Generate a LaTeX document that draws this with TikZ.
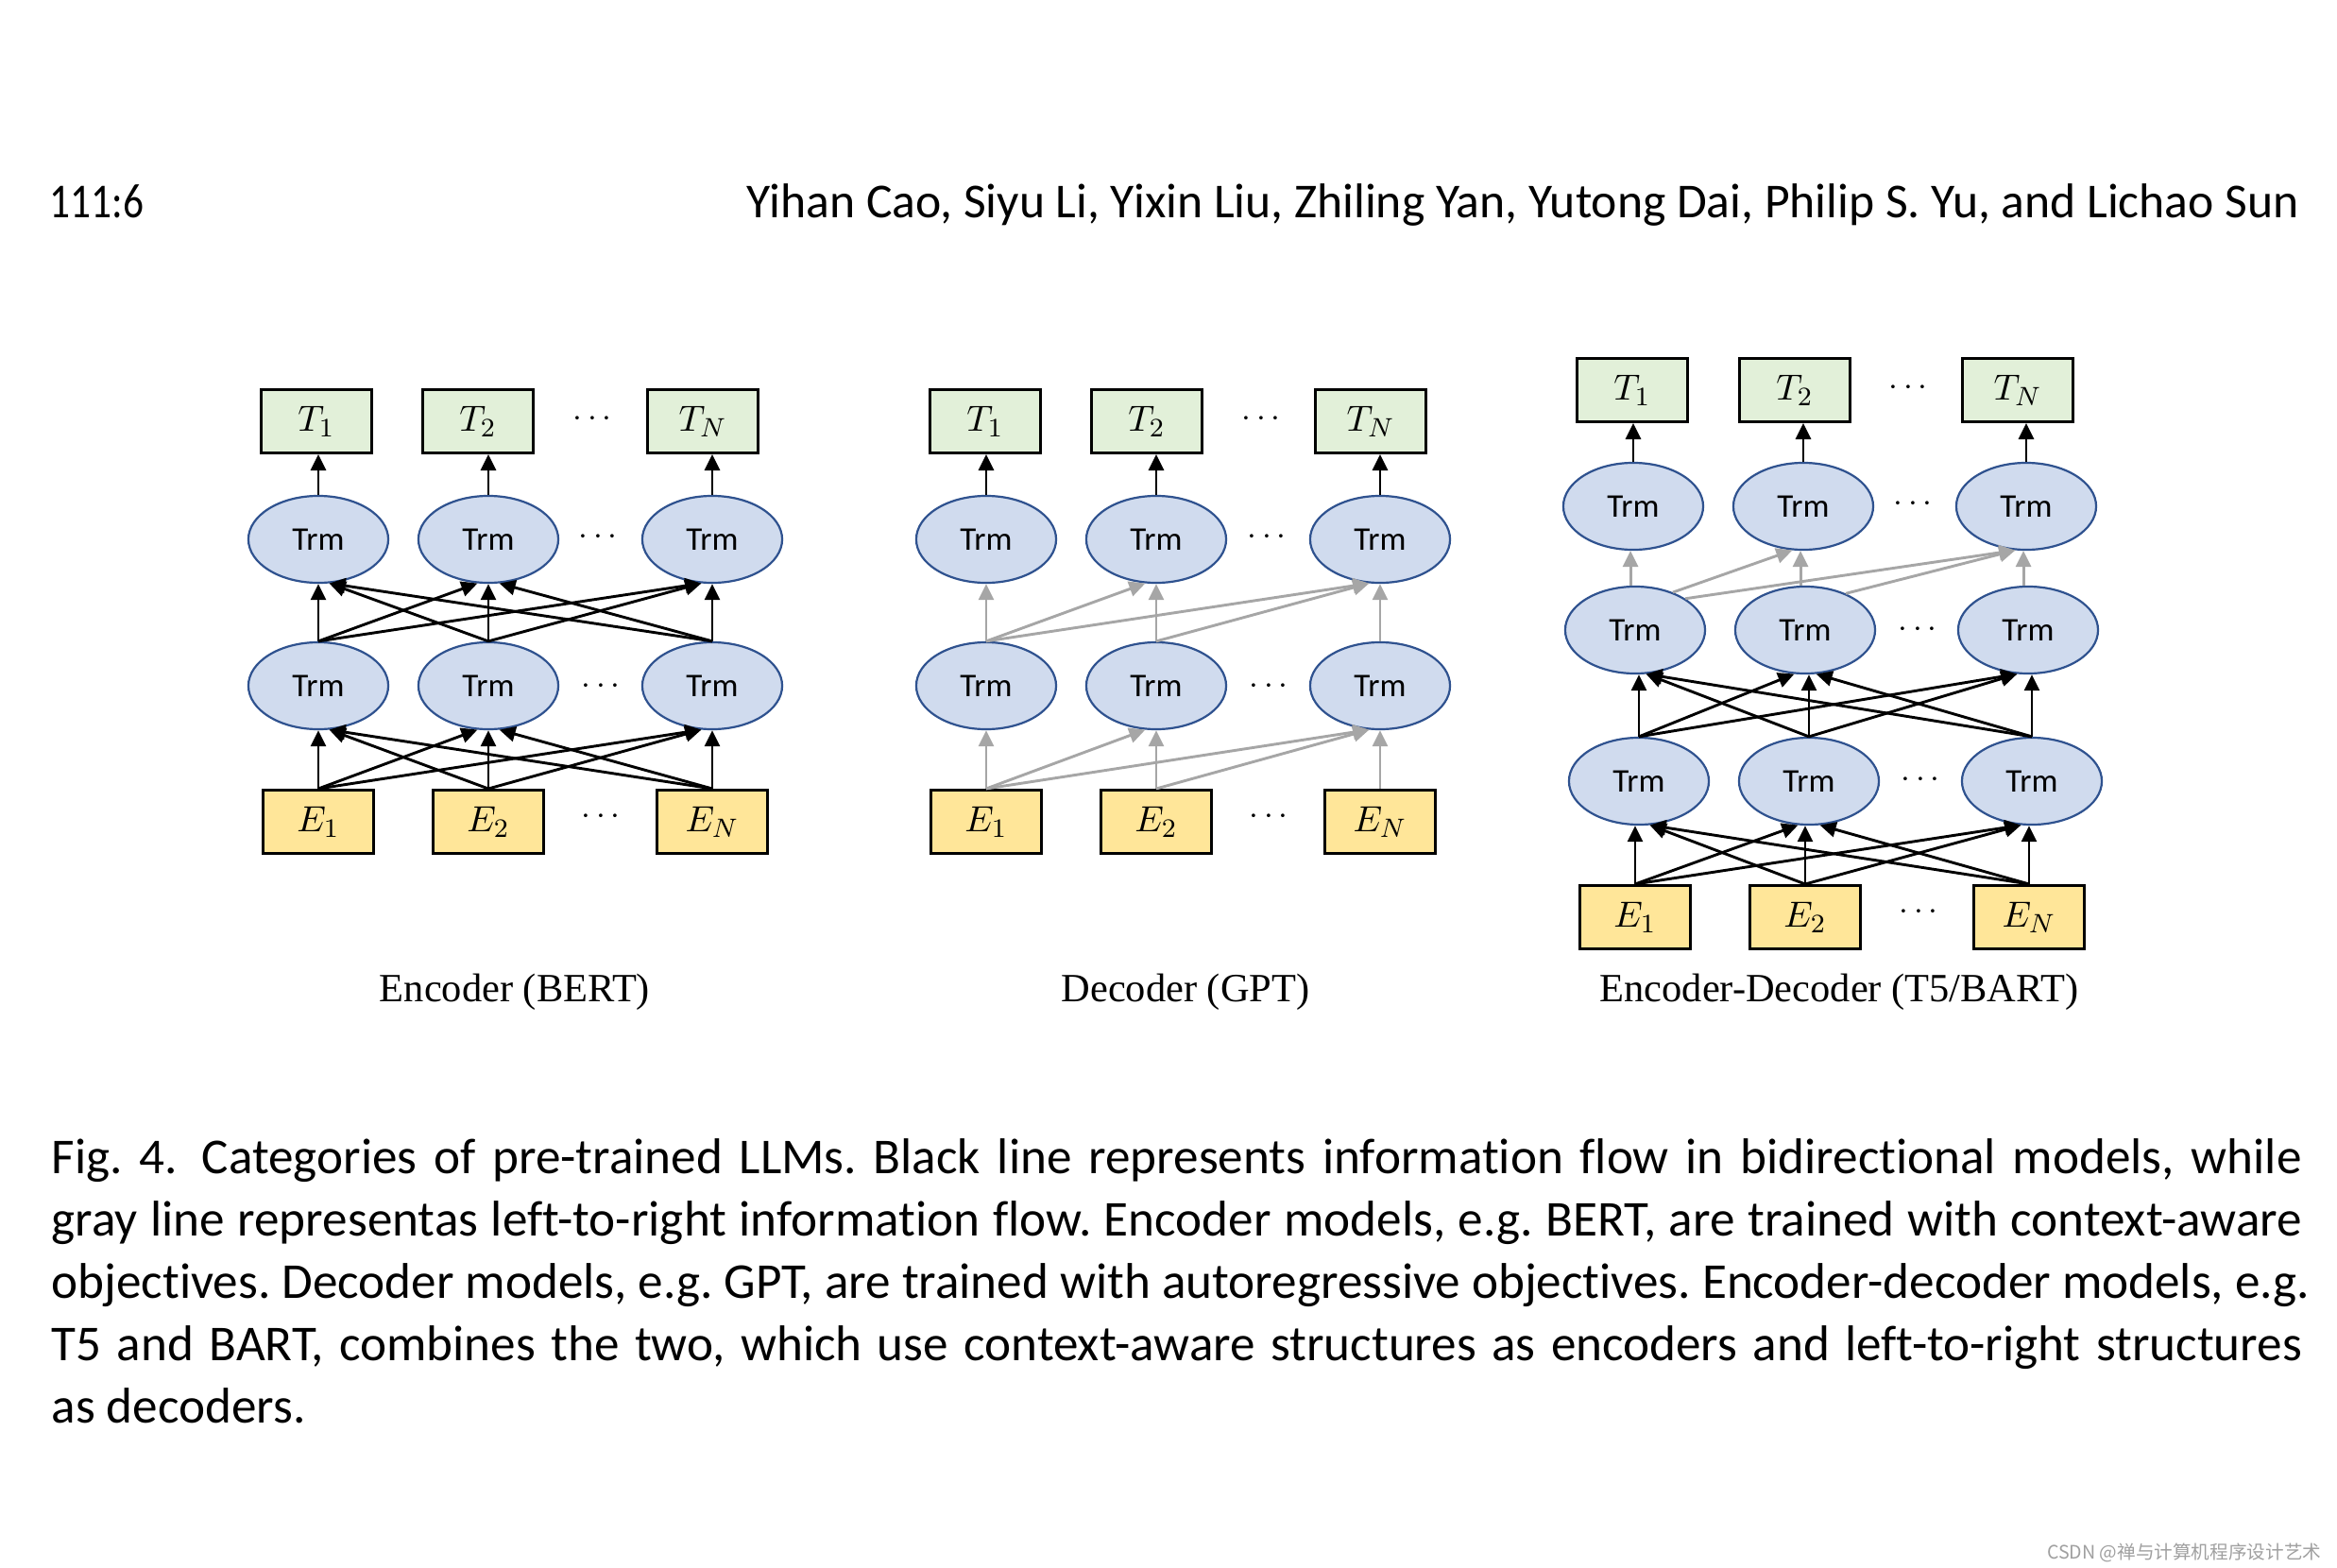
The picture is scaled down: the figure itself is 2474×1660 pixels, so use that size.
\documentclass[tikz,border=0pt]{standalone}
\usepackage{fontspec}
\usetikzlibrary{shapes.geometric,arrows.meta}
\definecolor{tgreen}{HTML}{E2F0D9}
\definecolor{eyellow}{HTML}{FFE699}
\definecolor{trmfill}{HTML}{D0DBEE}
\definecolor{trmdraw}{HTML}{2F528F}
\definecolor{arrgray}{HTML}{A6A6A6}
\definecolor{wmgray}{HTML}{A0A0A0}
\newfontfamily\capfont[Ligatures=NoCommon]{Carlito}
\newfontfamily\serfont{Liberation Serif}
\newfontfamily\cjkfont{Noto Sans CJK SC}
\newlength\fitlen
\newcommand\fitsize[4]{%
  \settowidth\fitlen{#2\frenchspacing\fontsize{10pt}{12pt}\selectfont #4}%
  \pgfmathsetmacro#1{10*#3/\fitlen}}
\newcommand\capA{Fig. 4.\kern0.26cm Categories of pre-trained LLMs. Black line represents information flow in bidirectional models, while}
\newcommand\capB{gray line representas left-to-right information flow. Encoder models, e.g. BERT, are trained with context-aware}
\newcommand\capC{objectives. Decoder models, e.g. GPT, are trained with autoregressive objectives. Encoder-decoder models, e.g.}
\newcommand\capD{T5 and BART, combines the two, which use context-aware structures as encoders and left-to-right structures}
\newcommand\capE{as decoders.}
\newcommand\hdtext{Yihan Cao, Siyu Li, Yixin Liu, Zhiling Yan, Yutong Dai, Philip S. Yu, and Lichao Sun}
\newcommand\wmtext{CSDN @禅与计算机程序设计艺术}
\tikzset{
  tbox/.style={draw, line width=0.03cm, fill=tgreen, minimum width=1.17cm,
    minimum height=0.67cm, inner sep=0pt, font=\fontsize{10.95}{13}\selectfont},
  ebox/.style={tbox, fill=eyellow},
  trm/.style={ellipse, draw=trmdraw, line width=0.022cm, fill=trmfill,
    minimum width=1.48cm, minimum height=0.92cm, inner sep=0pt,
    font=\capfont\fontsize{\trmsz pt}{\trmsz pt}\selectfont},
  dotsn/.style={inner sep=0pt, font=\fontsize{10}{12}\selectfont},
  bl/.style={line width=0.029cm, black, -{Triangle[length=0.17cm,width=0.16cm]}},
  gr/.style={line width=0.029cm, color=arrgray, -{Triangle[length=0.17cm,width=0.16cm]}},
  capline/.style={anchor=base west, inner sep=0pt,
    font=\capfont\frenchspacing\fontsize{\capsz pt}{\capsz pt}\selectfont},
  hd/.style={inner sep=0pt, font=\capfont\frenchspacing\fontsize{\hdsz pt}{\hdsz pt}\selectfont},
  lab/.style={anchor=base, inner sep=0pt, font=\serfont\fontsize{\labsz pt}{\labsz pt}\selectfont},
  wm/.style={anchor=base east, inner sep=0pt, text=wmgray,
    font=\cjkfont\fontsize{\wmsz pt}{\wmsz pt}\selectfont}
}
\newcommand\tarrows[6]{%
  \draw[bl] (#1.north) -- (#1.north |- #4.south);
  \draw[bl] (#2.north) -- (#2.north |- #5.south);
  \draw[bl] (#3.north) -- (#3.north |- #6.south);}
\newcommand\bilayer[6]{%
  \draw[bl] (#1.north) -- (#1.north |- #4.south);
  \draw[bl] (#1.north) -- (#5.-104);
  \draw[bl] (#1.north) -- (#6.-104);
  \draw[bl] (#2.north) -- (#4.-76);
  \draw[bl] (#2.north) -- (#2.north |- #5.south);
  \draw[bl] (#2.north) -- (#6.-104);
  \draw[bl] (#3.north) -- (#4.-76);
  \draw[bl] (#3.north) -- (#5.-76);
  \draw[bl] (#3.north) -- (#3.north |- #6.south);}
\newcommand\unilayer[6]{%
  \draw[gr] (#1.north) -- (#1.north |- #4.south);
  \draw[gr] (#1.north) -- (#5.-104);
  \draw[gr] (#1.north) -- (#6.-104);
  \draw[gr] (#2.north) -- (#2.north |- #5.south);
  \draw[gr] (#2.north) -- (#6.-104);
  \draw[gr] (#3.north) -- (#3.north |- #6.south);}
\begin{document}
\fitsize\capsz\capfont{679.7}{\capC}%
\fitsize\hdsz\capfont{467.5}{\hdtext}%
\fitsize\labsz\serfont{81.38}{Encoder (BERT)}%
\fitsize\trmsz\capfont{15.65}{Trm}%
\fitsize\wmsz\cjkfont{82.5}{\wmtext}%
\begin{tikzpicture}[x=0.01cm,y=-0.01cm]
\useasboundingbox (0,0) rectangle (2474,1660);
\fill[white] (0,0) rectangle (2474,1660);

% header
\node[hd, anchor=base west] (pg) at (52,230) {\scalebox{0.84}[1]{111:6}};
\node[hd, anchor=base east] (au) at (2435,230) {\hdtext};

% ---------- Encoder (BERT) ----------
\node[tbox] (et1) at (335,446) {$T_1$};
\node[tbox] (et2) at (506,446) {$T_2$};
\node[tbox] (et3) at (744,446) {$T_N$};
\node[dotsn] (etd) at (627,444) {$\cdots$};
\node[trm] (eu1) at (337,571) {Trm};
\node[trm] (eu2) at (517,571) {Trm};
\node[trm] (eu3) at (754,571) {Trm};
\node[dotsn] (eud) at (633,569) {$\cdots$};
\node[trm] (el1) at (337,726) {Trm};
\node[trm] (el2) at (517,726) {Trm};
\node[trm] (el3) at (754,726) {Trm};
\node[dotsn] (eld) at (636,727) {$\cdots$};
\node[ebox] (ee1) at (337,870) {$E_1$};
\node[ebox] (ee2) at (517,870) {$E_2$};
\node[ebox] (ee3) at (754,870) {$E_N$};
\node[dotsn] (eed) at (636,865) {$\cdots$};
\tarrows{eu1}{eu2}{eu3}{et1}{et2}{et3}
\bilayer{el1}{el2}{el3}{eu1}{eu2}{eu3}
\bilayer{ee1}{ee2}{ee3}{el1}{el2}{el3}
\node[lab] (lab1) at (545,1060) {Encoder (BERT)};

% ---------- Decoder (GPT) ----------
\node[tbox] (dt1) at (1043,446) {$T_1$};
\node[tbox] (dt2) at (1214,446) {$T_2$};
\node[tbox] (dt3) at (1451,446) {$T_N$};
\node[dotsn] (dtd) at (1335,444) {$\cdots$};
\node[trm] (du1) at (1044,571) {Trm};
\node[trm] (du2) at (1224,571) {Trm};
\node[trm] (du3) at (1461,571) {Trm};
\node[dotsn] (dud) at (1341,569) {$\cdots$};
\node[trm] (dl1) at (1044,726) {Trm};
\node[trm] (dl2) at (1224,726) {Trm};
\node[trm] (dl3) at (1461,726) {Trm};
\node[dotsn] (dld) at (1343,727) {$\cdots$};
\node[ebox] (de1) at (1044,870) {$E_1$};
\node[ebox] (de2) at (1224,870) {$E_2$};
\node[ebox] (de3) at (1461,870) {$E_N$};
\node[dotsn] (ded) at (1343,865) {$\cdots$};
\tarrows{du1}{du2}{du3}{dt1}{dt2}{dt3}
\unilayer{dl1}{dl2}{dl3}{du1}{du2}{du3}
\unilayer{de1}{de2}{de3}{dl1}{dl2}{dl3}
\node[lab] (lab2) at (1255,1060) {Decoder (GPT)};

% ---------- Encoder-Decoder (T5/BART) ----------
\node[tbox] (xt1) at (1728,413) {$T_1$};
\node[tbox] (xt2) at (1900,413) {$T_2$};
\node[tbox] (xt3) at (2136,413) {$T_N$};
\node[dotsn] (xtd) at (2020,411) {$\cdots$};
\node[trm] (xu1) at (1729,536) {Trm};
\node[trm] (xu2) at (1909,536) {Trm};
\node[trm] (xu3) at (2145,536) {Trm};
\node[dotsn] (xud) at (2025,534) {$\cdots$};
\node[trm] (xm1) at (1731,667) {Trm};
\node[trm] (xm2) at (1911,667) {Trm};
\node[trm] (xm3) at (2147,667) {Trm};
\node[dotsn] (xmd) at (2030,667) {$\cdots$};
\node[trm] (xb1) at (1735,827) {Trm};
\node[trm] (xb2) at (1915,827) {Trm};
\node[trm] (xb3) at (2151,827) {Trm};
\node[dotsn] (xbd) at (2033,826) {$\cdots$};
\node[ebox] (xe1) at (1731,971) {$E_1$};
\node[ebox] (xe2) at (1911,971) {$E_2$};
\node[ebox] (xe3) at (2148,971) {$E_N$};
\node[dotsn] (xed) at (2031,966) {$\cdots$};
\tarrows{xu1}{xu2}{xu3}{xt1}{xt2}{xt3}
\draw[gr] (xm1.96) -- (xm1.96 |- xu1.south);
\draw[gr] (xm1.45) -- (xu2.-104);
\draw[gr] (xm1.32) -- (xu3.-104);
\draw[gr] (xm2.96) -- (xm2.96 |- xu2.south);
\draw[gr] (xm2.42) -- (xu3.-104);
\draw[gr] (xm3.96) -- (xm3.96 |- xu3.south);
\bilayer{xb1}{xb2}{xb3}{xm1}{xm2}{xm3}
\bilayer{xe1}{xe2}{xe3}{xb1}{xb2}{xb3}
\node[lab] (lab3) at (1947,1060) {Encoder-Decoder (T5/BART)};

% ---------- caption ----------
\node[capline] (cap1) at (54,1242) {\makebox[23.81cm][s]{\capA}};
\node[capline] (cap2) at (54,1308) {\makebox[23.81cm][s]{\capB}};
\node[capline] (cap3) at (54,1374) {\makebox[23.89cm][s]{\capC}};
\node[capline] (cap4) at (54,1440) {\makebox[23.81cm][s]{\capD}};
\node[capline] (cap5) at (54,1506) {\capE};

% watermark
\node[wm] (wmk) at (2458,1650) {\wmtext};
\end{tikzpicture}
\end{document}
